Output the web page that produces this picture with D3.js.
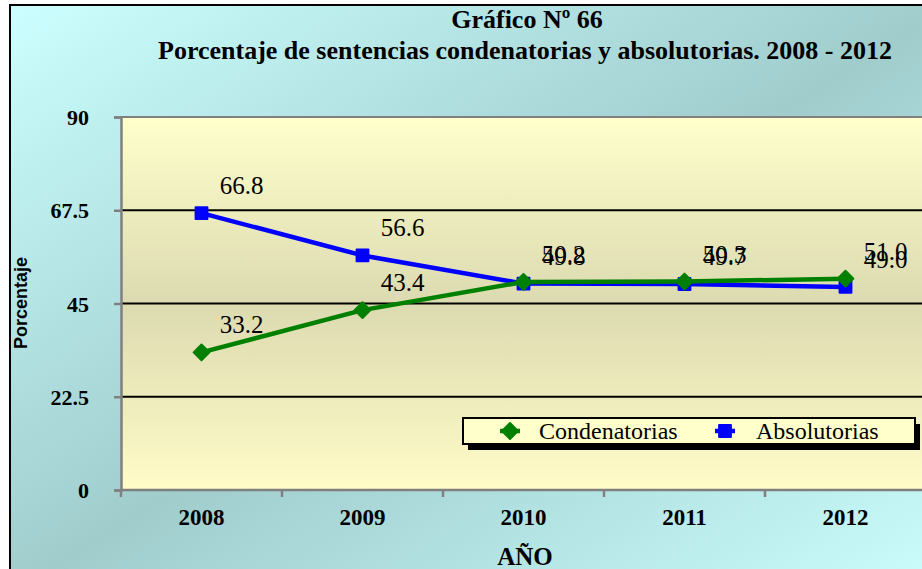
<!DOCTYPE html>
<html>
<head>
<meta charset="utf-8">
<script src="https://cdn.jsdelivr.net/npm/d3@7"></script>
<style>
  body { margin: 0; background: #fff; }
  svg { display: block; }
  .serif { font-family: "Liberation Serif", "Times New Roman", Times, serif; }
  .sans { font-family: "Liberation Sans", Arial, Helvetica, sans-serif; }
</style>
</head>
<body>
<div id="chart"></div>
<script>
// datos
var years = ["2008", "2009", "2010", "2011", "2012"];
var condenatorias = [33.2, 43.4, 50.2, 50.3, 51.0];
var absolutorias = [66.8, 56.6, 49.8, 49.7, 49.0];
var yTicks = [0, 22.5, 45, 67.5, 90];

var width = 922, height = 569;
var plot = { left: 121, top: 117, right: 926, bottom: 490 };

var svg = d3.select("#chart").append("svg")
    .attr("width", width)
    .attr("height", height);

var defs = svg.append("defs");
var bg = defs.append("linearGradient").attr("id", "bg")
    .attr("x1", "0%").attr("y1", "0%").attr("x2", "100%").attr("y2", "100%");
bg.append("stop").attr("offset", "0%").attr("stop-color", "#ccffff");
bg.append("stop").attr("offset", "50%").attr("stop-color", "#a0cccc");
bg.append("stop").attr("offset", "100%").attr("stop-color", "#ccffff");

var pg = defs.append("linearGradient").attr("id", "pg")
    .attr("x1", "0%").attr("y1", "0%").attr("x2", "0%").attr("y2", "100%");
pg.append("stop").attr("offset", "0%").attr("stop-color", "#ffffcc");
pg.append("stop").attr("offset", "50%").attr("stop-color", "#dcdab0");
pg.append("stop").attr("offset", "100%").attr("stop-color", "#fffcc8");

// fondo
svg.append("rect")
    .attr("x", 10).attr("y", 5)
    .attr("width", width + 20).attr("height", height + 20)
    .attr("fill", "url(#bg)")
    .attr("stroke", "#000").attr("stroke-width", 2);

// escalas
var x = d3.scaleBand().domain(years).range([plot.left, plot.right]);
var y = d3.scaleLinear().domain([0, 90]).range([plot.bottom, plot.top]);

svg.append("rect")
    .attr("x", plot.left).attr("y", plot.top)
    .attr("width", plot.right - plot.left).attr("height", plot.bottom - plot.top)
    .attr("fill", "url(#pg)");

// lineas de cuadricula
svg.append("g").selectAll("line")
    .data(yTicks.filter(function (d) { return d > 0 && d < 90; }))
    .enter().append("line")
    .attr("x1", plot.left).attr("x2", plot.right)
    .attr("y1", function (d) { return y(d); })
    .attr("y2", function (d) { return y(d); })
    .attr("stroke", "#000").attr("stroke-width", 2);

// borde superior del area
svg.append("line")
    .attr("x1", plot.left).attr("x2", plot.right)
    .attr("y1", plot.top).attr("y2", plot.top)
    .attr("stroke", "#808080").attr("stroke-width", 2);

// eje Y
var yAxis = svg.append("g")
    .attr("transform", "translate(" + plot.left + ",0)")
    .call(d3.axisLeft(y).tickValues(yTicks).tickSize(7).tickPadding(25)
        .tickFormat(function (d) { return d; }));
yAxis.attr("font-family", null).attr("font-size", null);
yAxis.select(".domain").attr("stroke", "#808080").attr("stroke-width", 2.5);
yAxis.selectAll(".tick line").attr("stroke", "#808080").attr("stroke-width", 2.5);
yAxis.selectAll(".tick text")
    .attr("class", "serif")
    .attr("fill", "#000")
    .attr("dy", "0.35em")
    .style("font-weight", "bold")
    .style("font-size", "22px");

// eje X
var xTickScale = d3.scaleLinear().domain([0, years.length]).range([plot.left, plot.right]);
var xAxisG = svg.append("g");
xAxisG.append("line")
    .attr("x1", plot.left).attr("x2", plot.right)
    .attr("y1", plot.bottom).attr("y2", plot.bottom)
    .attr("stroke", "#808080").attr("stroke-width", 2.5);
xAxisG.selectAll(".xt")
    .data(d3.range(years.length + 1))
    .enter().append("line")
    .attr("x1", function (d) { return xTickScale(d); })
    .attr("x2", function (d) { return xTickScale(d); })
    .attr("y1", plot.bottom).attr("y2", plot.bottom + 7)
    .attr("stroke", "#808080").attr("stroke-width", 2.5);
xAxisG.selectAll("text")
    .data(years)
    .enter().append("text")
    .attr("class", "serif")
    .attr("x", function (d) { return x(d) + x.bandwidth() / 2; })
    .attr("y", 525)
    .attr("text-anchor", "middle")
    .style("font-weight", "bold")
    .style("font-size", "23px")
    .text(function (d) { return d; });

// series
var series = [
    { name: "Absolutorias", values: absolutorias, color: "#0000ff", symbol: d3.symbolSquare, size: 140 },
    { name: "Condenatorias", values: condenatorias, color: "#008000", symbol: d3.symbolDiamond2, size: 160 }
];

var line = d3.line()
    .x(function (d, i) { return x(years[i]) + x.bandwidth() / 2; })
    .y(function (d) { return y(d); });

series.forEach(function (s) {
    svg.append("path")
        .datum(s.values)
        .attr("d", line)
        .attr("fill", "none")
        .attr("stroke", s.color)
        .attr("stroke-width", 4.5)
        .attr("stroke-linejoin", "round");
    svg.append("g").selectAll("path")
        .data(s.values)
        .enter().append("path")
        .attr("d", d3.symbol().type(s.symbol).size(s.size))
        .attr("transform", function (d, i) {
            return "translate(" + (x(years[i]) + x.bandwidth() / 2) + "," + y(d) + ")";
        })
        .attr("fill", s.color)
        .attr("stroke", s.color)
        .attr("stroke-width", 2)
        .attr("stroke-linejoin", "round");
});

// etiquetas de valores
series.forEach(function (s) {
    svg.append("g").selectAll("text")
        .data(s.values)
        .enter().append("text")
        .attr("class", "serif")
        .attr("x", function (d, i) { return x(years[i]) + x.bandwidth() / 2 + 40; })
        .attr("y", function (d) { return y(d) - 19; })
        .attr("text-anchor", "middle")
        .style("font-size", "25px")
        .text(function (d) { return d.toFixed(1); });
});

// titulo
svg.append("text")
    .attr("class", "serif")
    .attr("x", 527).attr("y", 28)
    .attr("text-anchor", "middle")
    .style("font-weight", "bold").style("font-size", "26px")
    .text("Gráfico Nº 66");
svg.append("text")
    .attr("class", "serif")
    .attr("x", 525).attr("y", 59)
    .attr("text-anchor", "middle")
    .style("font-weight", "bold").style("font-size", "26px")
    .text("Porcentaje de sentencias condenatorias y absolutorias. 2008 - 2012");

// titulos de ejes
svg.append("text")
    .attr("class", "sans")
    .attr("transform", "translate(27,303) rotate(-90)")
    .attr("text-anchor", "middle")
    .style("font-weight", "bold").style("font-size", "18px")
    .text("Porcentaje");
svg.append("text")
    .attr("class", "serif")
    .attr("x", 525).attr("y", 565)
    .attr("text-anchor", "middle")
    .style("font-weight", "bold").style("font-size", "25px")
    .text("AÑO");

// leyenda
var legend = svg.append("g").attr("transform", "translate(463,418)");
legend.append("rect")
    .attr("x", 5).attr("y", 6).attr("width", 452).attr("height", 26)
    .attr("fill", "#000");
legend.append("rect")
    .attr("x", 0).attr("y", 0).attr("width", 452).attr("height", 26)
    .attr("fill", "#ffffcc").attr("stroke", "#000").attr("stroke-width", 2);
var legendItems = [
    { s: series[1], mx: 47, tx: 76 },
    { s: series[0], mx: 262, tx: 293 }
];
legendItems.forEach(function (it) {
    legend.append("line")
        .attr("x1", it.mx - 10).attr("x2", it.mx + 10)
        .attr("y1", 13).attr("y2", 13)
        .attr("stroke", it.s.color).attr("stroke-width", 4.5);
    legend.append("path")
        .attr("d", d3.symbol().type(it.s.symbol).size(it.s.size))
        .attr("transform", "translate(" + it.mx + ",13)")
        .attr("fill", it.s.color).attr("stroke", it.s.color).attr("stroke-width", 2)
        .attr("stroke-linejoin", "round");
    legend.append("text")
        .attr("class", "serif")
        .attr("x", it.tx).attr("y", 21)
        .style("font-size", "24px")
        .text(it.s.name);
});
</script>
</body>
</html>
